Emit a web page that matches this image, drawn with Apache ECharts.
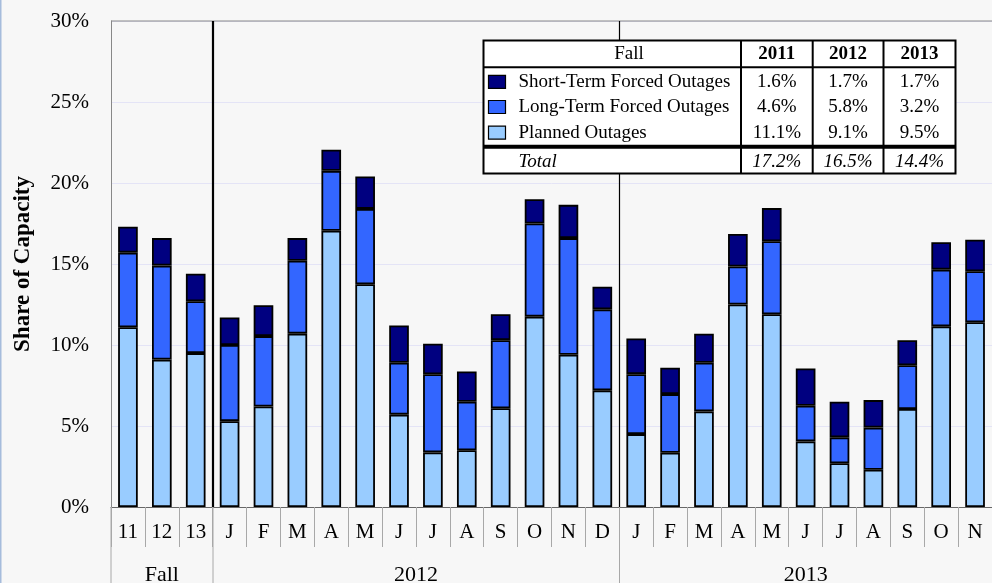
<!DOCTYPE html>
<html>
<head>
<meta charset="utf-8">
<script src="https://cdn.jsdelivr.net/npm/echarts@6/dist/echarts.min.js"></script>
<style>
  html, body { margin: 0; padding: 0; background: #f7f7f7; overflow: hidden; }
  #chart { width: 992px; height: 583px; }
</style>
</head>
<body>
<div id="chart"></div>
<script>
// Month / season categories along the x axis
const categories = ['11', '12', '13',
  'J', 'F', 'M', 'A', 'M', 'J', 'J', 'A', 'S', 'O', 'N', 'D',
  'J', 'F', 'M', 'A', 'M', 'J', 'J', 'A', 'S', 'O', 'N'];

// Category groups shown on the second label row
const groupNames = ['Fall', '2012', '2013'];
const groupStarts = [0, 3, 15];
const groupEnds = [2, 14, 25];

// Outage shares of capacity (%)
const planned = [11.1, 9.1, 9.5,
  5.3, 6.2, 10.7, 17.05, 13.75, 5.7, 3.37, 3.5, 6.1, 11.75, 9.4, 7.2,
  4.5, 3.35, 5.9, 12.5, 11.9, 4.05, 2.7, 2.3, 6.05, 11.15, 11.4];
const longTerm = [4.6, 5.8, 3.2,
  4.7, 4.35, 4.5, 3.7, 4.65, 3.2, 4.82, 3.0, 4.2, 5.75, 7.2, 5.0,
  3.7, 3.62, 3.0, 2.35, 4.5, 2.2, 1.6, 2.6, 2.7, 3.5, 3.15];
const shortTerm = [1.6, 1.7, 1.7,
  1.7, 1.9, 1.4, 1.3, 2.0, 2.3, 1.89, 1.87, 1.6, 1.5, 2.05, 1.4,
  2.2, 1.63, 1.8, 2.0, 2.05, 2.3, 2.2, 1.7, 1.55, 1.7, 1.95];

// Fall summary table
const fallYears = ['2011', '2012', '2013'];
const fallTotals = [17.2, 16.5, 14.4];

const seriesNames = ['Short-Term Forced Outages', 'Long-Term Forced Outages', 'Planned Outages'];
const seriesColors = ['#000080', '#3366ff', '#99ccff'];

const SERIF = '"Liberation Serif", "Times New Roman", serif';

const chart = echarts.init(document.getElementById('chart'), null, { renderer: 'canvas' });

const barStyle = color => ({ color: color, borderColor: '#000', borderWidth: 1.8 });

chart.setOption({
  backgroundColor: '#f7f7f7',
  animation: false,
  grid: { left: 111, right: -9, top: 21, bottom: 76, containLabel: false },
  xAxis: {
    type: 'category',
    data: categories,
    axisLine: { show: true, lineStyle: { color: '#666', width: 1.2 } },
    axisTick: { show: true, interval: 0, length: 40, lineStyle: { color: '#a8a8a8', width: 1 } },
    axisLabel: { interval: 0, margin: 15, fontSize: 21, fontFamily: SERIF, color: '#000' },
    splitLine: { show: false }
  },
  yAxis: {
    type: 'value',
    min: 0, max: 30, interval: 5,
    name: 'Share of Capacity',
    nameLocation: 'middle',
    nameGap: 76,
    nameTextStyle: { fontSize: 23, fontWeight: 'bold', fontFamily: SERIF, color: '#000' },
    axisLine: { show: true, lineStyle: { color: '#888', width: 1 } },
    axisTick: { show: false },
    axisLabel: { formatter: '{value}%', margin: 22, fontSize: 21, fontFamily: SERIF, color: '#000' },
    splitLine: { show: true, lineStyle: { color: '#e4e4f6', width: 1 } }
  },
  series: [
    { name: seriesNames[2], type: 'bar', stack: 'total', data: planned, barWidth: '58%', itemStyle: barStyle(seriesColors[2]) },
    { name: seriesNames[1], type: 'bar', stack: 'total', data: longTerm, barWidth: '58%', itemStyle: barStyle(seriesColors[1]) },
    { name: seriesNames[0], type: 'bar', stack: 'total', data: shortTerm, barWidth: '58%', itemStyle: barStyle(seriesColors[0]) }
  ]
});

// Frame lines, group separators, group labels and the summary table
const px = i => chart.convertToPixel({ xAxisIndex: 0 }, i);
const yTop = chart.convertToPixel({ yAxisIndex: 0 }, 30);
const yZero = chart.convertToPixel({ yAxisIndex: 0 }, 0);
const step = px(1) - px(0);
const boundary = i => px(i) - step / 2;   // left edge of category i
const xLeft = boundary(0);
const H = 583;

const g = [];
// top border of the plot
g.push({ type: 'line', shape: { x1: xLeft, y1: yTop, x2: 1000, y2: yTop }, style: { stroke: '#888', lineWidth: 1 }, z: 5 });
// left axis continues down through the label rows
g.push({ type: 'line', shape: { x1: xLeft, y1: yZero, x2: xLeft, y2: H }, style: { stroke: '#a8a8a8', lineWidth: 1 }, z: 5 });
// separators between groups
[1, 2].forEach(k => {
  const x = Math.round(boundary(groupStarts[k])) + (k === 1 ? 0 : 0.5);
  g.push({ type: 'line', shape: { x1: x, y1: yTop, x2: x, y2: yZero }, style: { stroke: '#000', lineWidth: k === 1 ? 2.2 : 1.2 }, z: 5 });
  g.push({ type: 'line', shape: { x1: x, y1: yZero, x2: x, y2: H }, style: { stroke: '#a8a8a8', lineWidth: 1 }, z: 5 });
});
// group labels
groupNames.forEach((name, k) => {
  const cx = (boundary(groupStarts[k]) + boundary(groupEnds[k]) + step) / 2;
  g.push({ type: 'text', x: cx, y: 575, style: { text: name, fontSize: 22, fontFamily: SERIF, fill: '#000', align: 'center', verticalAlign: 'middle' }, z: 6 });
});

// summary table
const T = { x: 483.5, y: 40.5, w: 472, h: 133 };
const colX = [741, 812.7, 883.5];
const headerBottom = 67.3;
const sepY = 146.8;
const rowY = [81.8, 107, 132.6];
const totalY = 161.5;
g.push({ type: 'rect', shape: { x: T.x, y: T.y, width: T.w, height: T.h }, style: { fill: '#fff', stroke: '#000', lineWidth: 2 }, z: 10 });
g.push({ type: 'line', shape: { x1: T.x, y1: headerBottom, x2: T.x + T.w, y2: headerBottom }, style: { stroke: '#000', lineWidth: 2 }, z: 11 });
g.push({ type: 'line', shape: { x1: T.x, y1: sepY, x2: T.x + T.w, y2: sepY }, style: { stroke: '#000', lineWidth: 4 }, z: 11 });
colX.forEach(x => g.push({ type: 'line', shape: { x1: x, y1: T.y, x2: x, y2: T.y + T.h }, style: { stroke: '#000', lineWidth: 2 }, z: 11 }));
const colCenter = j => (colX[j] + (j < 2 ? colX[j + 1] : T.x + T.w)) / 2;
const txt = (s, x, y, opts) => g.push({ type: 'text', x: x, y: y, z: 12,
  style: Object.assign({ text: s, fontSize: 19, fontFamily: SERIF, fill: '#000', align: 'center', verticalAlign: 'middle' }, opts || {}) });

txt('Fall', 629, 54.5);
fallYears.forEach((yr, j) => txt(yr, colCenter(j), 54.5, { fontWeight: 'bold' }));
const rows = [shortTerm, longTerm, planned];
rows.forEach((arr, r) => {
  g.push({ type: 'rect', z: 12, shape: { x: 488.5, y: rowY[r] - 6.5, width: 17, height: 13 },
    style: { fill: seriesColors[r], stroke: '#000', lineWidth: 1.2 } });
  txt(seriesNames[r], 518.5, rowY[r], { align: 'left' });
  for (let j = 0; j < 3; j++) txt(arr[j].toFixed(1) + '%', colCenter(j), rowY[r]);
});
txt('Total', 518.5, totalY, { align: 'left', fontStyle: 'italic' });
fallTotals.forEach((v, j) => txt(v.toFixed(1) + '%', colCenter(j), totalY, { fontStyle: 'italic' }));

// thin tinted edge on the left side of the page
g.push({ type: 'rect', shape: { x: 0, y: 0, width: 1.5, height: H }, style: { fill: '#a6bcdc' }, z: 1 });

chart.setOption({ graphic: g });
</script>
</body>
</html>
